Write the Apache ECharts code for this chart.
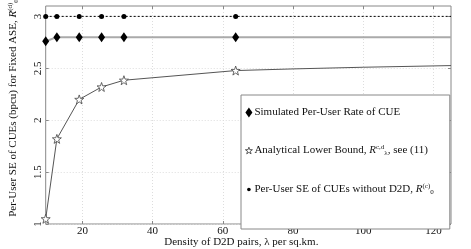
<!DOCTYPE html>
<html>
<head>
<meta charset="utf-8">
<script src="https://cdn.jsdelivr.net/npm/echarts@6/dist/echarts.min.js"></script>
<style>html,body{margin:0;padding:0;background:#fff}#c{width:471px;height:249px}</style>
</head>
<body>
<div id="c"></div>
<script>
// ---- data ----
var lambdaPts = [9.549, 12.732, 19.099, 25.465, 31.831, 63.662];
var simulated = [2.76, 2.80, 2.80, 2.80, 2.80, 2.80];
var analytical = [1.05, 1.82, 2.20, 2.32, 2.385, 2.478];
var analyticalTailX = [80, 100, 125];
var analyticalTail = [2.494, 2.51, 2.526];
var noD2D = [3.0, 3.0, 3.0, 3.0, 3.0, 3.0];
var xEnd = 125;
var xTicks = [20, 40, 60, 80, 100, 120];
var yTicks = [1, 1.5, 2, 2.5, 3];

var FONT = 'Liberation Serif';

function starPath() {
  var p = [];
  for (var i = 0; i < 10; i++) {
    var r = (i % 2 === 0) ? 10 : 4;
    var a = -Math.PI / 2 + i * Math.PI / 5;
    p.push((i === 0 ? 'M' : 'L') + (r * Math.cos(a)).toFixed(3) + ' ' + (r * Math.sin(a)).toFixed(3));
  }
  return 'path://' + p.join(' ') + ' Z';
}
var STAR = starPath();
var SMALL_DOT = 'path://M-5 -7 L-5 -7 M5 7 L5 7 M0 -2.6 A2.6 2.6 0 1 1 0 2.6 A2.6 2.6 0 1 1 0 -2.6 Z';

function withTail(xs, ys, tailX, tailY) {
  var d = xs.map(function (x, i) { return [x, ys[i]]; });
  tailX.forEach(function (x, i) { d.push({ value: [x, tailY[i]], symbol: 'none' }); });
  return d;
}

var names = ['Simulated Per-User Rate of CUE', 'Analytical Lower Bound', 'Per-User SE of CUEs without D2D'];
var legendText = {};
legendText[names[0]] = 'Simulated Per-User Rate of CUE';
legendText[names[1]] = 'Analytical Lower Bound, {it|R}{sup|c,d}{sub|λ}, see (11)';
legendText[names[2]] = 'Per-User SE of CUEs without D2D, {it|R}{sup|(c)}{sub|0}';

var rich = {
  it: { fontFamily: FONT, fontStyle: 'italic', fontSize: 11, color: '#111' },
  sup: { fontFamily: FONT, fontSize: 7, verticalAlign: 'top', padding: [0, 0, 6, 0], color: '#111' },
  sub: { fontFamily: FONT, fontSize: 7, verticalAlign: 'bottom', padding: [4, 0, 0, 0], color: '#111' }
};

var chart = echarts.init(document.getElementById('c'), null, { renderer: 'canvas' });
chart.setOption({
  animation: false,
  backgroundColor: '#fff',
  grid: { left: 45.7, right: 20, top: 6, bottom: 25, containLabel: false, outerBoundsMode: 'none',
    show: true, borderColor: '#888', borderWidth: 1, backgroundColor: 'transparent' },
  legend: {
    orient: 'vertical', left: 241, top: 95,
    padding: [12, 16, 33, 4], itemGap: 26,
    itemWidth: 7, itemHeight: 10,
    backgroundColor: '#fff', borderColor: '#888', borderWidth: 1, borderRadius: 0,
    textStyle: { fontFamily: FONT, fontSize: 11, color: '#111', padding: [0, 0, 0, -3], rich: rich },
    formatter: function (n) { return legendText[n]; },
    data: [
      { name: names[0], icon: 'diamond', itemStyle: { color: '#000', borderWidth: 0 } },
      { name: names[1], icon: STAR, itemStyle: { color: '#fff', borderColor: '#333', borderWidth: 0.8 } },
      { name: names[2], icon: SMALL_DOT, itemStyle: { color: '#000', borderWidth: 0 } }
    ],
    z: 10
  },
  xAxis: [{
    type: 'value', min: lambdaPts[0], max: xEnd,
    name: 'Density of D2D pairs, λ per sq.km.', nameLocation: 'middle', nameGap: 13,
    nameMoveOverlap: false,
    nameTextStyle: { fontFamily: FONT, fontSize: 11, color: '#111', padding: [0, 14, 0, 0] },
    axisLine: { show: false },
    axisTick: { show: true, inside: true, length: 3, lineStyle: { color: '#888' }, customValues: xTicks },
    axisLabel: { fontFamily: FONT, fontSize: 11, color: '#111', margin: 2, customValues: xTicks, hideOverlap: false },
    splitLine: { show: true, lineStyle: { color: '#ddd', type: [1, 2], width: 1 } }
  }, {
    type: 'value', position: 'top', min: lambdaPts[0], max: xEnd,
    axisLine: { show: false },
    axisTick: { show: true, inside: true, length: 3, lineStyle: { color: '#888' }, customValues: xTicks },
    axisLabel: { show: false, customValues: xTicks },
    splitLine: { show: false }
  }],
  yAxis: [{
    type: 'value', min: 1, max: 3.1,
    name: 'Per-User SE of CUEs (bpcu) for Fixed ASE, {it|R}{sup|(d)}{sub|0}',
    nameLocation: 'middle', nameGap: 26, nameRotate: 90, nameMoveOverlap: false,
    nameTextStyle: { fontFamily: FONT, fontSize: 11, color: '#111', padding: [0, 0, 0, 14], rich: rich },
    axisLine: { show: false },
    axisTick: { show: true, inside: true, length: 3, lineStyle: { color: '#888' }, customValues: yTicks },
    axisLabel: { fontFamily: FONT, fontSize: 11, color: '#111', rotate: 90, margin: 2, customValues: yTicks,
      formatter: function (v) { return String(v); } },
    splitLine: { show: true, lineStyle: { color: '#ddd', type: [1, 2], width: 1 } }
  }, {
    type: 'value', position: 'right', min: 1, max: 3.1,
    axisLine: { show: false },
    axisTick: { show: true, inside: true, length: 3, lineStyle: { color: '#888' }, customValues: yTicks },
    axisLabel: { show: false, customValues: yTicks },
    splitLine: { show: false }
  }],
  series: [{
    name: names[2], type: 'line', z: 3,
    data: withTail(lambdaPts, noD2D, [xEnd], [3.0]),
    symbol: 'circle', symbolSize: 5,
    itemStyle: { color: '#000' },
    lineStyle: { color: '#000', width: 1, type: [2, 2] }
  }, {
    name: names[0], type: 'line', z: 4,
    data: withTail(lambdaPts, simulated, [xEnd], [2.80]),
    symbol: 'diamond', symbolSize: [7, 10],
    itemStyle: { color: '#000' },
    lineStyle: { color: '#aaa', width: 2 }
  }, {
    name: names[1], type: 'line', z: 5,
    data: withTail(lambdaPts, analytical, analyticalTailX, analyticalTail),
    symbol: STAR, symbolSize: 9,
    itemStyle: { color: '#fff', borderColor: '#444', borderWidth: 0.8 },
    lineStyle: { color: '#555', width: 1 }
  }]
});
</script>
</body>
</html>
